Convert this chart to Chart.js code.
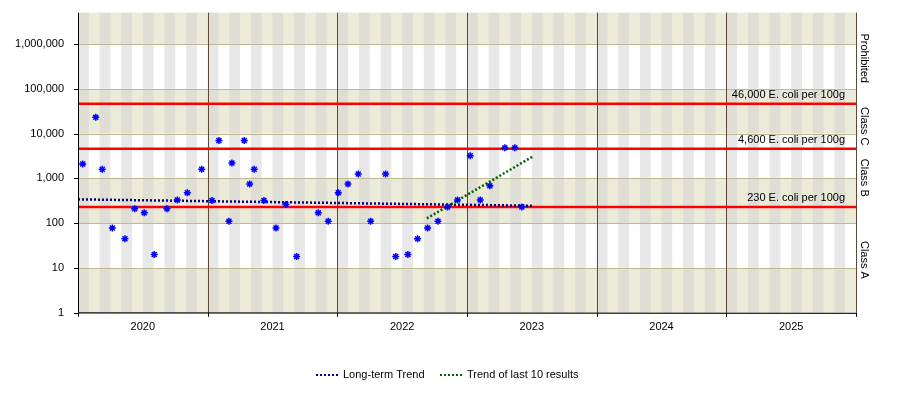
<!DOCTYPE html>
<html><head><meta charset="utf-8">
<script src="https://cdn.jsdelivr.net/npm/chart.js@4/dist/chart.umd.min.js"></script>
<style>body{margin:0;background:#fff}#w{width:900px;height:400px}</style>
</head><body><div id="w"><canvas id="c"></canvas></div>
<script>
const sampleDates=[2020.036,2020.137,2020.187,2020.265,2020.362,2020.437,2020.511,2020.588,2020.686,2020.766,2020.843,2020.954,2021.033,2021.087,2021.164,2021.187,2021.282,2021.324,2021.359,2021.434,2021.527,2021.603,2021.686,2021.853,2021.930,2022.007,2022.082,2022.161,2022.257,2022.372,2022.450,2022.544,2022.619,2022.696,2022.776,2022.850,2022.927,2023.025,2023.102,2023.176,2023.292,2023.369,2023.423];
const sampleValues=[2100,23000,1600,78,45,210,170,20,210,330,480,1600,320,7000,110,2200,7000,750,1600,320,78,260,18,170,110,480,750,1250,110,1250,18,20,45,78,110,230,330,3200,330,680,4800,4800,230];
const longTrendX=[2020.0,2023.5],longTrendY=[340,245];
const lastTrendX=[2022.69,2023.51],lastTrendY=[128,3100];
const limitValues=[46000,4600,230];
const limitLabels=["46,000 E. coli per 100g","4,600 E. coli per 100g","230 E. coli per 100g"];
const classLabels=["Prohibited","Class C","Class B","Class A"];
const classBounds=[[46000,5e6],[4600,46000],[230,4600],[1,230]];
const yearLabels=["2020","2021","2022","2023","2024","2025"];
const yTicks=[1,10,100,1000,10000,100000,1000000];
const FONT='"Liberation Sans", Arial, sans-serif';

const bg={id:'bg',beforeDatasetsDraw(ch){
 const {ctx,chartArea:a,scales:{x,y}}=ch;ctx.save();
 for(let d=0;d<7;d++){
  const yb=y.getPixelForValue(Math.pow(10,d)),yt=Math.max(a.top,y.getPixelForValue(Math.pow(10,d+1)));
  const beige=d%2===0;
  for(let m=0;m<72;m++){
   const x0=x.getPixelForValue(2020+m/12),x1=x.getPixelForValue(2020+(m+1)/12);
   const g=m%2===0;
   ctx.fillStyle=beige?(g?'#DFDED5':'#ECEBD9'):(g?'#E8E8E8':'#FFFFFF');
   ctx.fillRect(x0,yt,x1-x0+0.5,yb-yt);
  }
 }
 ctx.strokeStyle='#BDB88F';ctx.lineWidth=1;
 for(const v of yTicks){const p=Math.round(y.getPixelForValue(v))+0.5;ctx.beginPath();ctx.moveTo(a.left,p);ctx.lineTo(a.right,p);ctx.stroke();}
 ctx.strokeStyle='#5A4A3C';
 for(let yr=2021;yr<=2026;yr++){const p=Math.round(x.getPixelForValue(yr))+0.5;ctx.beginPath();ctx.moveTo(p,a.top);ctx.lineTo(p,a.bottom);ctx.stroke();}
 ctx.strokeStyle='#FF0000';ctx.lineWidth=2.5;
 ctx.font='11px '+FONT;ctx.fillStyle='#000';ctx.textAlign='right';ctx.textBaseline='bottom';
 limitValues.forEach((v,i)=>{const p=y.getPixelForValue(v);ctx.beginPath();ctx.moveTo(a.left,p);ctx.lineTo(a.right,p);ctx.stroke();ctx.fillText(limitLabels[i],a.right-11,p-3);});
 ctx.textAlign='center';ctx.textBaseline='middle';
 classLabels.forEach((t,i)=>{const yc=(y.getPixelForValue(classBounds[i][0])+Math.max(a.top,y.getPixelForValue(classBounds[i][1])))/2;
  ctx.save();ctx.translate(a.right+8,yc);ctx.rotate(Math.PI/2);ctx.fillText(t,0,0);ctx.restore();});
 ctx.restore();
},afterDraw(ch){const {ctx,chartArea:a,scales:{x,y}}=ch;ctx.save();ctx.strokeStyle='#000';ctx.lineWidth=1;ctx.beginPath();ctx.moveTo(a.left+0.5,a.top);ctx.lineTo(a.left+0.5,a.bottom);ctx.lineTo(a.right,a.bottom+0.5);ctx.stroke();
 for(const v of yTicks){const p=Math.round(y.getPixelForValue(v))+0.5;ctx.beginPath();ctx.moveTo(a.left-4,p);ctx.lineTo(a.left,p);ctx.stroke();}
 for(let yr=2020;yr<=2026;yr++){const p=Math.round(x.getPixelForValue(yr))+0.5;ctx.beginPath();ctx.moveTo(p,a.bottom);ctx.lineTo(p,a.bottom+4);ctx.stroke();}
 // legend
 const items=[[1,316],[2,440]];ctx.font='11px '+FONT;ctx.textAlign='left';ctx.textBaseline='middle';
 items.forEach(([i,lx])=>{const d=ch.data.datasets[i];ctx.strokeStyle=d.borderColor;ctx.lineWidth=2;ctx.setLineDash([2,2]);ctx.beginPath();ctx.moveTo(lx,375);ctx.lineTo(lx+24,375);ctx.stroke();ctx.setLineDash([]);ctx.fillStyle='#000';ctx.fillText(d.label,lx+27,375);});
 ctx.restore();}};

new Chart(document.getElementById('c'),{
 type:'scatter',
 data:{datasets:[
  {label:'Results',data:sampleDates.map((d,i)=>({x:d,y:sampleValues[i]})),pointStyle:'star',radius:3.5,borderColor:'#0000FF',backgroundColor:'#0000FF',borderWidth:1.5},
  {label:'Long-term Trend',type:'line',data:longTrendX.map((d,i)=>({x:d,y:longTrendY[i]})),borderColor:'#000080',borderWidth:2.5,borderDash:[2,2],pointRadius:0,fill:false},
  {label:'Trend of last 10 results',type:'line',data:lastTrendX.map((d,i)=>({x:d,y:lastTrendY[i]})),borderColor:'#006400',borderWidth:2.5,borderDash:[2,2],pointRadius:0,fill:false}
 ]},
 options:{responsive:true,maintainAspectRatio:false,animation:false,
  layout:{padding:{top:12,right:44,bottom:66,left:0}},
  plugins:{tooltip:{enabled:false},legend:{display:false}},
  scales:{
   x:{type:'linear',min:2020,max:2026,grid:{display:false},border:{display:false},
    afterBuildTicks(s){s.ticks=yearLabels.map((t,i)=>({value:2020.5+i}));},
    ticks:{callback:(v)=>String(Math.floor(v)),font:{family:FONT,size:11},color:'#000',padding:0}},
   y:{type:'logarithmic',min:1,max:5e6,grid:{display:false},border:{display:false},
    afterFit(s){s.width=78;},
    afterBuildTicks(s){s.ticks=yTicks.map(v=>({value:v}));},
    ticks:{callback:v=>v.toLocaleString('en-US'),font:{family:FONT,size:11},color:'#000',padding:6}}
  }}
 ,plugins:[bg]});
</script></body></html>
